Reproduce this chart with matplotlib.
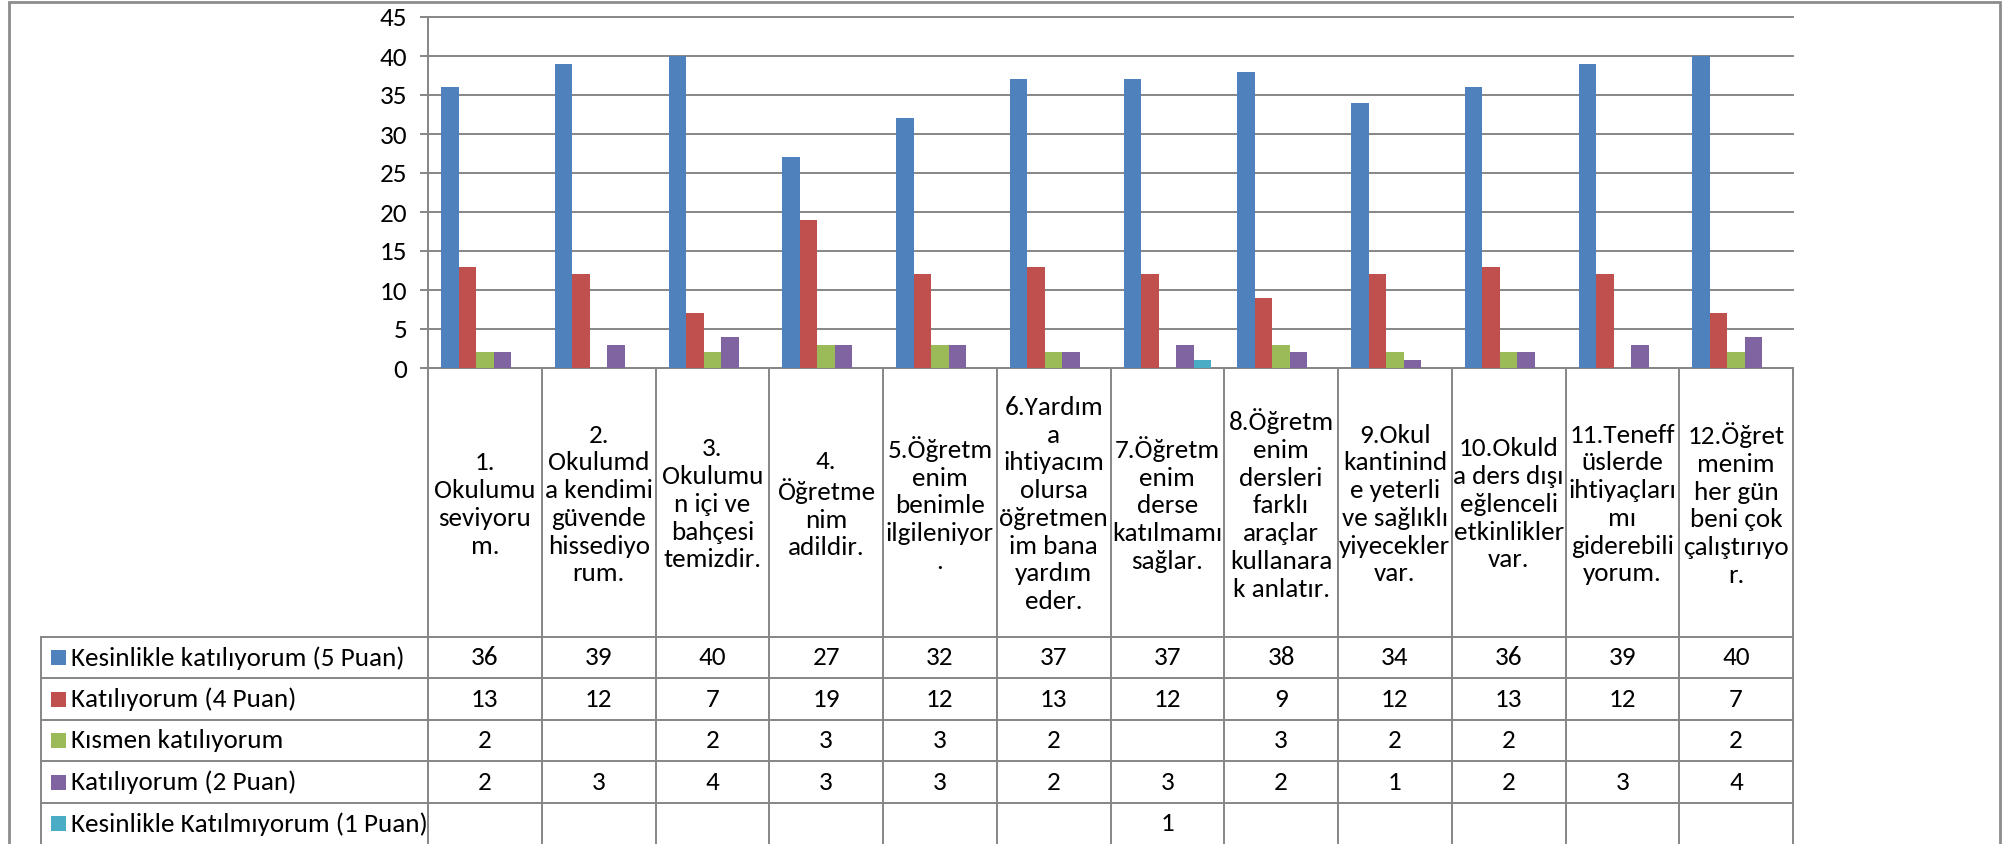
import numpy as np
import matplotlib
matplotlib.use("Agg")
import matplotlib.pyplot as plt
from matplotlib import font_manager
from matplotlib.patches import Rectangle

categories = [
    "1.\nOkulumu\nseviyoru\nm.",
    "2.\nOkulumd\na kendimi\ngüvende\nhissediyo\nrum.",
    "3.\nOkulumu\nn içi ve\nbahçesi\ntemizdir.",
    "4.\nÖğretme\nnim\nadildir.",
    "5.Öğretm\nenim\nbenimle\nilgileniyor\n.",
    "6.Yardım\na\nihtiyacım\nolursa\nöğretmen\nim bana\nyardım\neder.",
    "7.Öğretm\nenim\nderse\nkatılmamı\nsağlar.",
    "8.Öğretm\nenim\ndersleri\nfarklı\naraçlar\nkullanara\nk anlatır.",
    "9.Okul\nkantinind\ne yeterli\nve sağlıklı\nyiyecekler\nvar.",
    "10.Okuld\na ders dışı\neğlenceli\netkinlikler\nvar.",
    "11.Teneff\nüslerde\nihtiyaçları\nmı\ngiderebili\nyorum.",
    "12.Öğret\nmenim\nher gün\nbeni çok\nçalıştırıyo\nr.",
]
series_names = [
    "Kesinlikle katılıyorum (5 Puan)",
    "Katılıyorum (4 Puan)",
    "Kısmen katılıyorum",
    "Katılıyorum (2 Puan)",
    "Kesinlikle Katılmıyorum (1 Puan)",
]
puan5 = [36, 39, 40, 27, 32, 37, 37, 38, 34, 36, 39, 40]
puan4 = [13, 12, 7, 19, 12, 13, 12, 9, 12, 13, 12, 7]
kismen = [2, None, 2, 3, 3, 2, None, 3, 2, 2, None, 2]
puan2 = [2, 3, 4, 3, 3, 2, 3, 2, 1, 2, 3, 4]
puan1 = [None, None, None, None, None, None, 1, None, None, None, None, None]
series = [puan5, puan4, kismen, puan2, puan1]
colors = ['#4F81BD', '#C0504D', '#9BBB59', '#8064A2', '#4BACC6']
yticks = [0, 5, 10, 15, 20, 25, 30, 35, 40, 45]

avail = {f.name for f in font_manager.fontManager.ttflist}
font = 'DejaVu Sans'
for fam in ['Carlito', 'Liberation Sans Narrow', 'Lato', 'Open Sans']:
    if fam in avail:
        font = fam
        break
plt.rcParams['font.family'] = [font, 'DejaVu Sans']

W, H = 2011, 844
FS = 19.5
GRAY = '#868686'
fig = plt.figure(figsize=(W / 100, H / 100), dpi=100)


def fx(px):
    return px / W


left, right, top, zero = 428, 1793, 17, 368
ax = fig.add_axes([fx(left), 1 - zero / H, fx(right - left), (zero - top) / H])
n = len(categories)
x = np.arange(n)
nser = len(series)
bw = 1 / (nser + 1.5)
for i, (vals, c) in enumerate(zip(series, colors)):
    off = (i - (nser - 1) / 2) * bw
    v = np.array([np.nan if a is None else a for a in vals], float)
    ax.bar(x + off, v, width=bw, color=c, linewidth=0, zorder=3)
ax.set_xlim(-0.5, n - 0.5)
ax.set_ylim(0, 45)
ax.set_yticks(yticks)
ax.set_yticklabels([str(t) for t in yticks], fontsize=FS)
ax.set_xticks([])
ax.yaxis.grid(True, color=GRAY, lw=1.4)
for gl in ax.get_ygridlines():
    gl.set_clip_on(False)
ax.set_axisbelow(True)
for s in ['top', 'right']:
    ax.spines[s].set_visible(False)
for s in ['left', 'bottom']:
    ax.spines[s].set_color(GRAY)
    ax.spines[s].set_linewidth(1.4)
ax.tick_params(axis='y', length=6, width=1.4, color=GRAY, pad=9)

# data table under the chart, sharing the category scale
tax = fig.add_axes([fx(left), 0, fx(right - left), (H - zero) / H])
tax.set_xlim(-0.5, n - 0.5)
tax.set_ylim(H, zero)
tax.axis('off')
cw = (right - left) / n
xl = -0.5 - (left - 41) / cw
row_top = 637
row_h = 41.5
rows = [row_top + k * row_h for k in range(nser + 1)]

for k in range(n + 1):
    tax.plot([k - 0.5, k - 0.5], [zero, H + 5], color=GRAY, lw=1.4, clip_on=False)
tax.plot([xl, xl], [row_top, H + 5], color=GRAY, lw=1.4, clip_on=False)
for r in rows[:-1]:
    tax.plot([xl, n - 0.5], [r, r], color=GRAY, lw=1.4, clip_on=False)

for k, lab in enumerate(categories):
    tax.text(k, (zero + row_top) / 2 + 2, lab, ha='center', va='center',
             fontsize=FS, linespacing=1.25, clip_on=False)

for i, (name, vals, c) in enumerate(zip(series_names, series, colors)):
    yc = rows[i] + row_h / 2
    tax.add_patch(Rectangle((xl + 10 / cw, yc - 7.5), 15 / cw, 15,
                            facecolor=c, edgecolor='none', clip_on=False))
    tax.text(xl + 30 / cw, yc, name, ha='left', va='center', fontsize=FS,
             clip_on=False)
    for k, v in enumerate(vals):
        if v is not None:
            tax.text(k, yc, str(v), ha='center', va='center', fontsize=FS,
                     clip_on=False)

# outer chart border
fig.add_artist(Rectangle((fx(9), -0.01), fx(2000 - 9), 1 - 1.5 / H + 0.01,
                         transform=fig.transFigure, fill=False,
                         edgecolor='#8c8c8c', lw=2))

fig.savefig('out.png', dpi=100)
